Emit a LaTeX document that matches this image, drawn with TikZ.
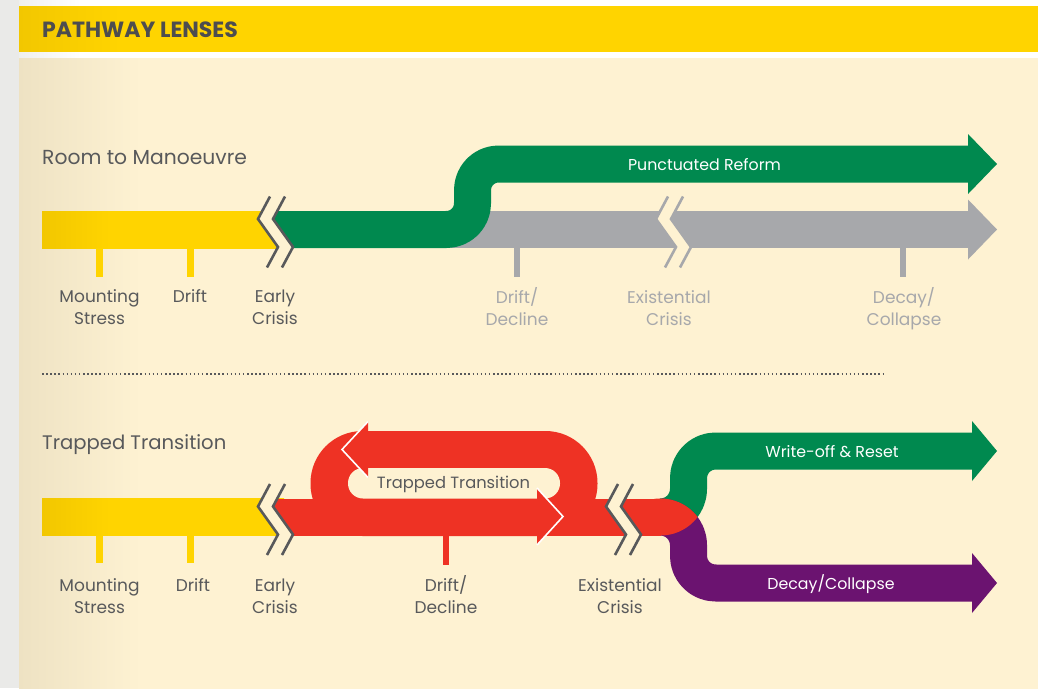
\documentclass[tikz,border=0pt]{standalone}
\usepackage{fontspec}
\setmainfont{Poppins}
\definecolor{cream}{HTML}{FEF2D2}
\definecolor{creamdark}{HTML}{EEE2C3}
\definecolor{ppyellow}{HTML}{FFD400}
\definecolor{ppydark}{HTML}{F2C700}
\definecolor{pgreen}{HTML}{00894F}
\definecolor{pgray}{HTML}{A7A8AB}
\definecolor{pred}{HTML}{EE3224}
\definecolor{ppurple}{HTML}{6B1370}
\definecolor{txt}{HTML}{58595B}
\definecolor{ttl}{HTML}{4D4D4F}
\definecolor{lgray}{HTML}{EAEAE8}
\pgfdeclarehorizontalshading{ybarshade}{100bp}{color(0bp)=(ppydark); color(25bp)=(ppydark); color(39bp)=(ppyellow); color(100bp)=(ppyellow)}
\pgfdeclarehorizontalshading{bannershade}{100bp}{color(0bp)=(ppydark); color(25bp)=(ppydark); color(30bp)=(ppyellow); color(100bp)=(ppyellow)}
\pgfdeclarehorizontalshading{panelshade}{100bp}{color(0bp)=(creamdark); color(25bp)=(creamdark); color(31bp)=(cream); color(100bp)=(cream)}
\pgfdeclarehorizontalshading{topshade}{100bp}{color(0bp)=(lgray); color(25bp)=(lgray); color(33bp)=(white); color(100bp)=(white)}
\newcommand{\zzchev}[3]{%
  \fill[cream] ({#1},{#2-33}) -- ({#1-12},{#2-10.5}) -- ({#1+8},{#2+17.5}) -- ({#1-3},{#2+38})
     -- ({#1+12},{#2+38}) -- ({#1+23},{#2+17.5}) -- ({#1+3},{#2-10.5}) -- ({#1+15},{#2-33}) -- cycle;
  \draw[chevline,#3] ({#1},{#2-33}) -- ({#1-12},{#2-10.5}) -- ({#1+8},{#2+17.5}) -- ({#1-3},{#2+38});
  \draw[chevline,#3] ({#1+15},{#2-33}) -- ({#1+3},{#2-10.5}) -- ({#1+23},{#2+17.5}) -- ({#1+12},{#2+38});
}
\newcommand{\zzclip}[2]{%
  \clip ({#1+15},0) -- ({#1+15},{#2-33}) -- ({#1+3},{#2-10.5}) -- ({#1+23},{#2+17.5}) -- ({#1+12},{#2+38})
     -- ({#1+12},700) -- (1040,700) -- (1040,0) -- cycle;
}
\begin{document}
\begin{tikzpicture}[x=1pt,y=-1pt,
  band/.style={line width=37pt, line cap=butt, line join=round},
  chevline/.style={line width=2.6pt, line cap=butt, line join=miter},
  lab/.style={text=txt, font=\fontsize{17}{22}\selectfont, align=center, anchor=base, inner sep=0pt},
  glab/.style={lab, text=pgray},
  wlab/.style={text=white, font=\fontsize{15.8}{20}\selectfont, anchor=base, inner sep=0pt},
  sect/.style={text=txt, anchor=base west, inner sep=0pt},
  headedge/.style={draw=white, line width=1.6pt, line join=miter}]
\useasboundingbox (0,0) rectangle (1038,688);
% background
\fill[white] (0,0) rectangle (1038,688);
\shade[shading=topshade] (0,0) rectangle (500,58);
\fill[lgray] (0,0) rectangle (19,688);
\shade[shading=bannershade] (19,6) rectangle (1038,51);
\shade[shading=panelshade] (19,58) rectangle (1038,688);
\node[text=ttl, font=\bfseries\fontsize{22}{22}\selectfont, anchor=base west, inner sep=0pt] (title) at (42,37) {PATHWAY LENSES};

% ===== Room to Manoeuvre =====
\node[sect, font=\fontsize{20.3}{24}\selectfont] (t1) at (42,164) {Room to Manoeuvre};
\shade[shading=ybarshade] (42,211) rectangle (284,248);
\draw[band,pgray] (447,229.5) -- (968,229.5);
\fill[pgray] (968,199.5) -- (997,229.5) -- (968,259.5) -- cycle;
\begin{scope}
  \zzclip{270}{229.5}
  \draw[band,pgreen] (255,229.5) -- (446.5,229.5) arc[start angle=90,end angle=0,radius=26]
     -- (472.5,190) arc[start angle=180,end angle=270,radius=26] -- (968,164);
\end{scope}
\fill[pgreen] (968,134) -- (997,164) -- (968,194) -- cycle;
\zzchev{270}{229.5}{draw=txt}
\zzchev{668}{229.5}{draw=pgray}
\fill[ppyellow] (96,248) rectangle (103,277);
\fill[ppyellow] (186.5,248) rectangle (193.5,277);
\fill[pgray] (514,248) rectangle (520,277);
\fill[pgray] (900,248) rectangle (906,277);
\node[wlab] (pr) at (704.5,170) {Punctuated Reform};
\node[lab] (ms1) at (99.5,324) {Mounting\\Stress};
\node[lab] (dr1) at (190,302) {Drift};
\node[lab] (ec1) at (275,324) {Early\\Crisis};
\node[glab] (dd1) at (517,325) {Drift/\\Decline};
\node[glab] (ex1) at (669,325) {Existential\\Crisis};
\node[glab] (dc1) at (904,325) {Decay/\\Collapse};

% separator
\draw[txt, line width=1.5pt, dash pattern=on 1.5pt off 2.6pt] (42,374) -- (886,374);

% ===== Trapped Transition =====
\node[sect, font=\fontsize{19.6}{24}\selectfont] (t2) at (42,449) {Trapped Transition};
\shade[shading=ybarshade] (42,498.5) rectangle (284,535.5);
\draw[band,pgreen] (660.5,517) arc[start angle=90,end angle=0,radius=28]
   -- (688.5,478) arc[start angle=180,end angle=270,radius=27] -- (972,451);
\fill[pgreen] (972,421) -- (997,451) -- (972,481) -- cycle;
\draw[band,ppurple] (660.5,517) arc[start angle=-90,end angle=0,radius=28]
   -- (688.5,556) arc[start angle=180,end angle=90,radius=27] -- (972,583);
\fill[ppurple] (972,553) -- (997,583) -- (972,613) -- cycle;
\begin{scope}
  \zzclip{270}{517}
  \fill[pred, rounded corners=52pt] (310.5,431) rectangle (597.5,536);
  \fill[pred] (255,498.5) rectangle (660.5,535.5);
\end{scope}
\fill[cream, rounded corners=15pt] (348,468) rectangle (560,498.5);
\begin{scope}
  \clip (660.5,489) circle[radius=46.5];
  \fill[pred] (660.5,545) circle[radius=46.5];
\end{scope}
% loop arrowheads
\fill[pred] (368,421.5) -- (342,449.5) -- (368,477.5) -- cycle;
\draw[headedge] (368,421.5) -- (342,449.5) -- (368,477.5);
\fill[pred] (537,488) -- (563,516.5) -- (537,545) -- cycle;
\draw[headedge] (537,488) -- (563,516.5) -- (537,545);
\zzchev{270}{517}{draw=txt}
\zzchev{618}{517}{draw=txt}
\fill[ppyellow] (96,535.5) rectangle (103,563);
\fill[ppyellow] (186.5,535.5) rectangle (193.5,563);
\fill[pred] (443,535.5) rectangle (449,565);
\node[lab, font=\fontsize{16.3}{20}\selectfont] (tt) at (453.5,488) {Trapped Transition};
\node[wlab] (wr) at (832,457) {Write-off \& Reset};
\node[wlab] (dc2) at (831,589) {Decay/Collapse};
\node[lab] (ms2) at (99.5,613) {Mounting\\Stress};
\node[lab] (dr2) at (193,591) {Drift};
\node[lab] (ec2) at (275,613) {Early\\Crisis};
\node[lab] (dd2) at (446,613) {Drift/\\Decline};
\node[lab] (ex2) at (620,613) {Existential\\Crisis};
\end{tikzpicture}
\end{document}
